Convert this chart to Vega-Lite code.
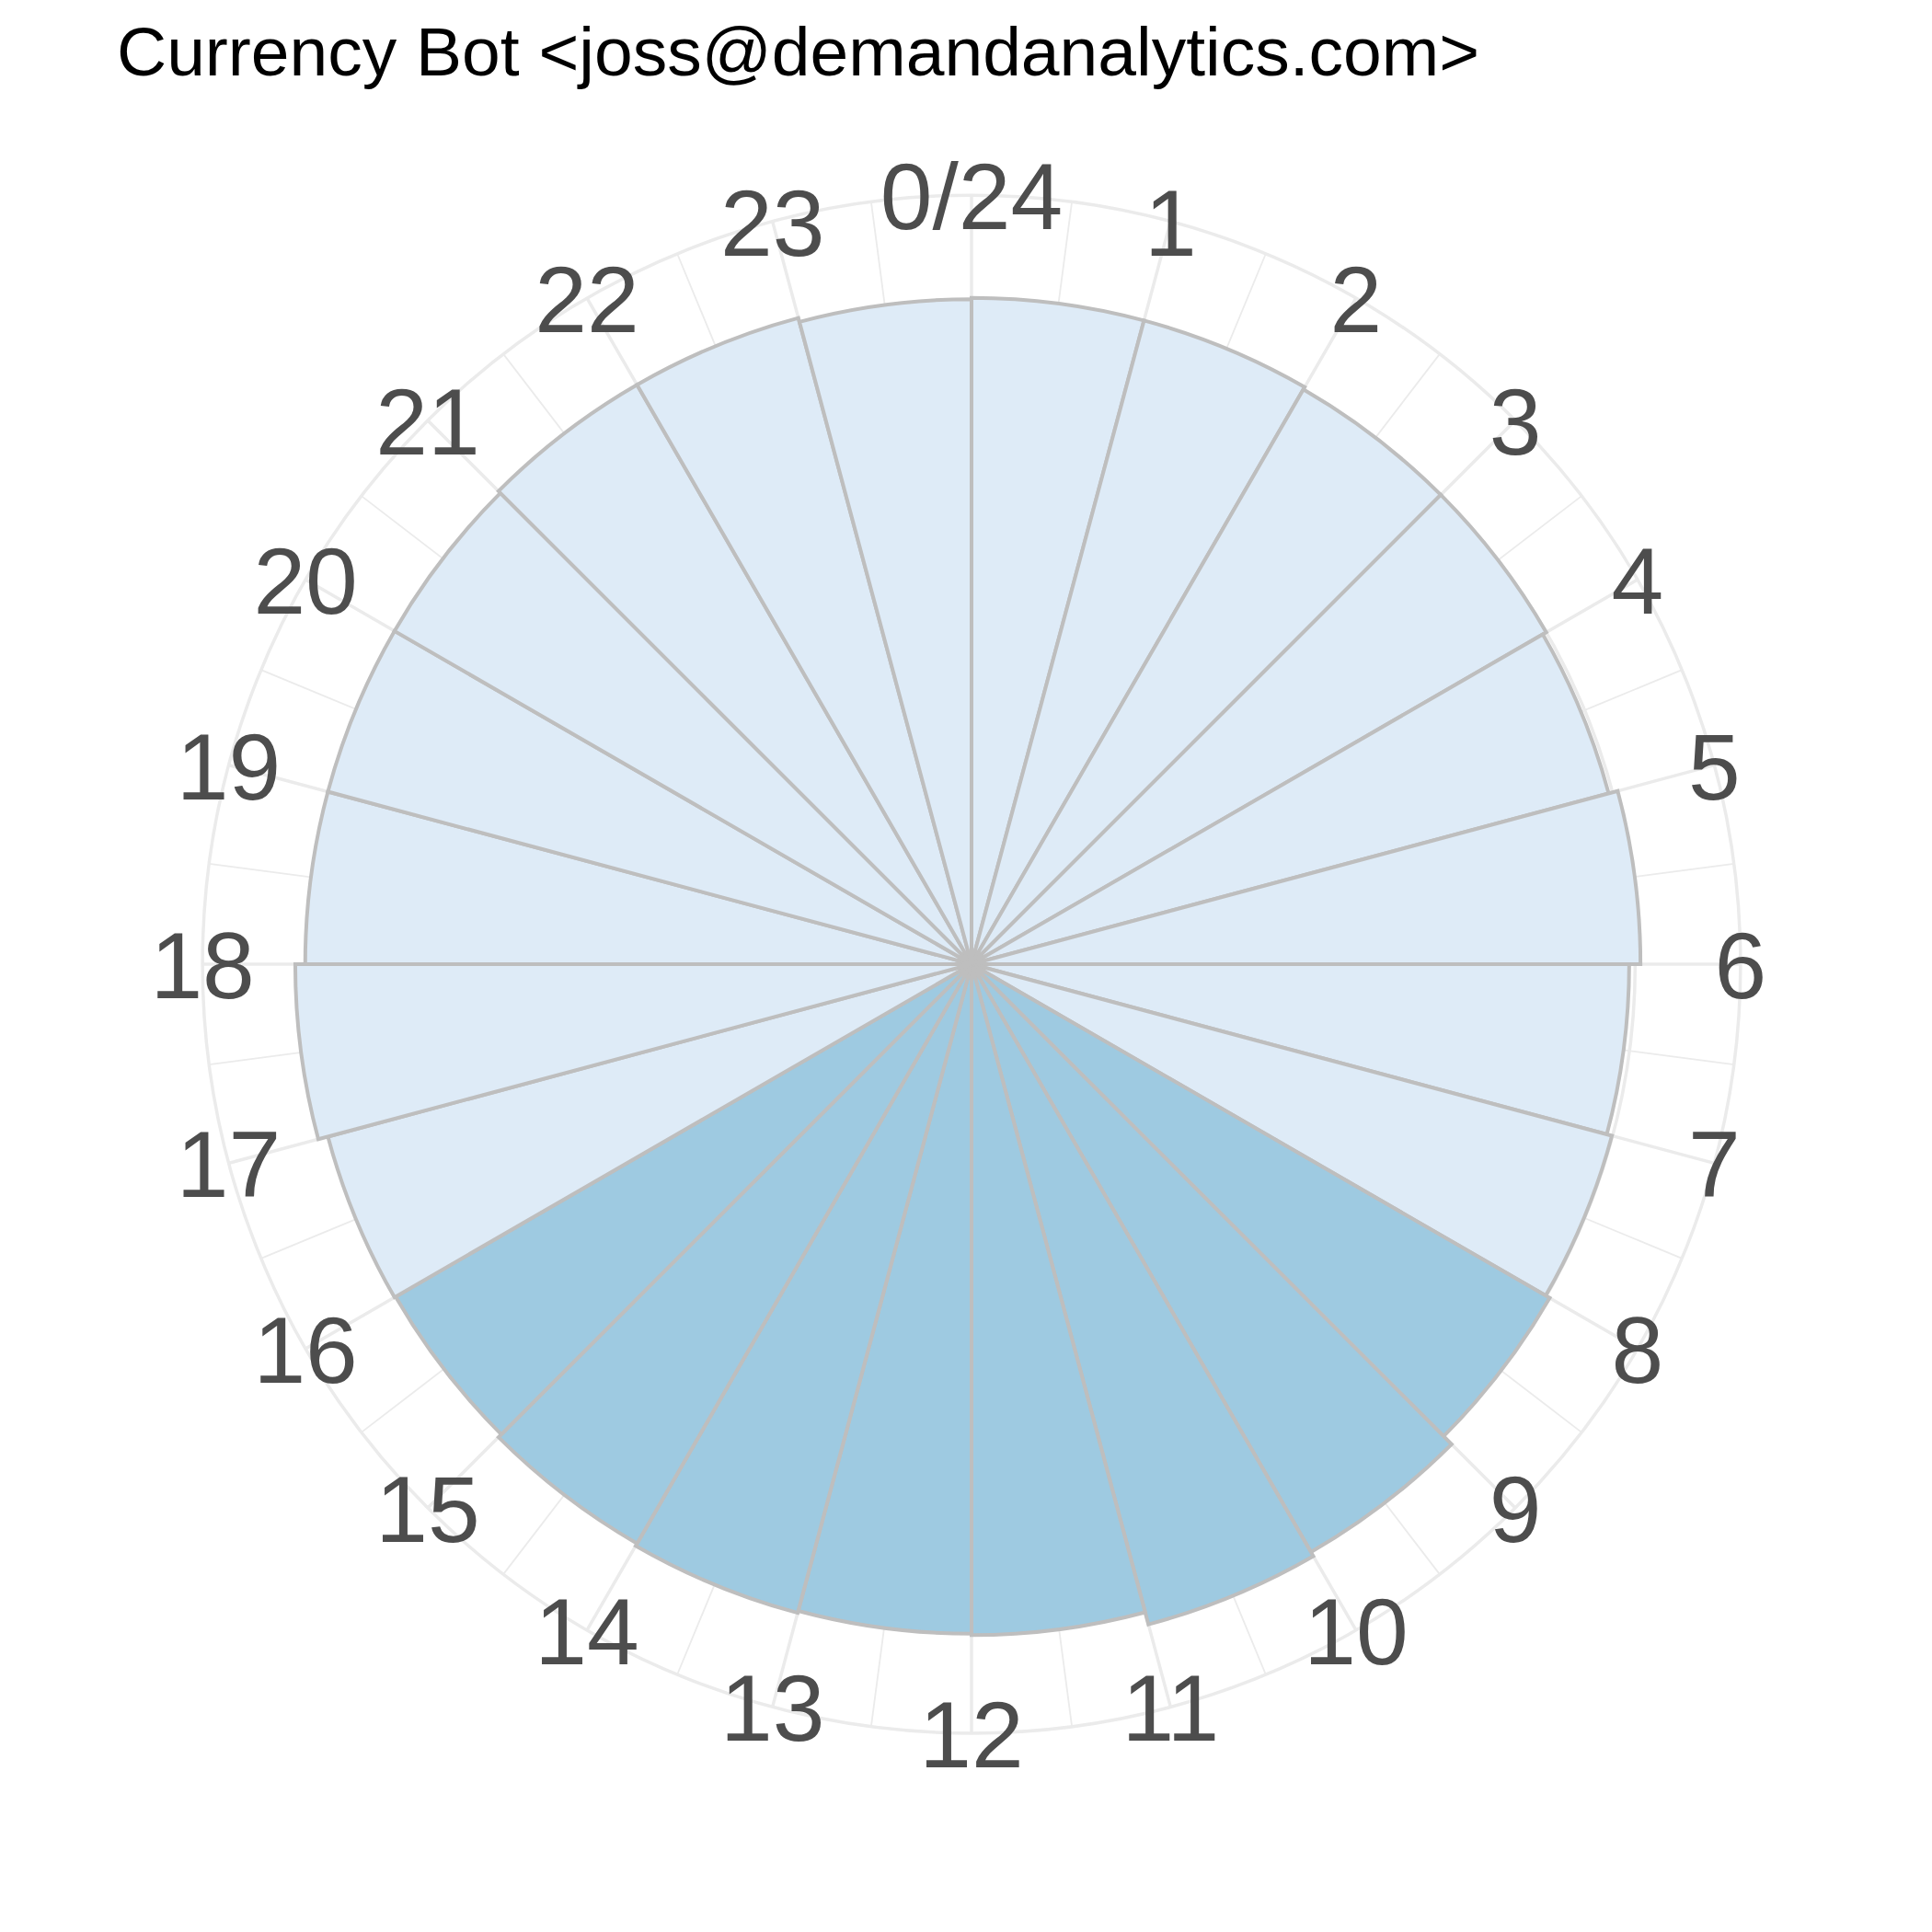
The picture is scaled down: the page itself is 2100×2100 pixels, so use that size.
{
  "$schema": "https://vega.github.io/schema/vega-lite/v6.json",
  "autosize": {"type": "none"},
  "padding": {"left": 12, "top": 100, "right": 0, "bottom": 0},
  "width": 2088,
  "height": 1896,
  "background": "white",
  "title": {
    "text": "Currency Bot <joss@demandanalytics.com>",
    "anchor": "start",
    "frame": "group",
    "font": "Liberation Sans",
    "fontSize": 75,
    "fontWeight": "normal",
    "color": "#000000",
    "offset": 2,
    "dx": 115
  },
  "config": {"view": {"stroke": null}},
  "datasets": {
    "usage": [
      {"hour": 0, "next": 1, "messages": 100.4, "office": "no"},
      {"hour": 1, "next": 2, "messages": 100.4, "office": "no"},
      {"hour": 2, "next": 3, "messages": 100.0, "office": "no"},
      {"hour": 3, "next": 4, "messages": 100.0, "office": "no"},
      {"hour": 4, "next": 5, "messages": 99.4, "office": "no"},
      {"hour": 5, "next": 6, "messages": 100.8, "office": "no"},
      {"hour": 6, "next": 7, "messages": 99.1, "office": "no"},
      {"hour": 7, "next": 8, "messages": 99.9, "office": "no"},
      {"hour": 8, "next": 9, "messages": 100.6, "office": "yes"},
      {"hour": 9, "next": 10, "messages": 102.3, "office": "yes"},
      {"hour": 10, "next": 11, "messages": 103.0, "office": "yes"},
      {"hour": 11, "next": 12, "messages": 101.1, "office": "yes"},
      {"hour": 12, "next": 13, "messages": 100.9, "office": "yes"},
      {"hour": 13, "next": 14, "messages": 101.2, "office": "yes"},
      {"hour": 14, "next": 15, "messages": 100.8, "office": "yes"},
      {"hour": 15, "next": 16, "messages": 100.2, "office": "yes"},
      {"hour": 16, "next": 17, "messages": 100.4, "office": "no"},
      {"hour": 17, "next": 18, "messages": 101.9, "office": "no"},
      {"hour": 18, "next": 19, "messages": 100.4, "office": "no"},
      {"hour": 19, "next": 20, "messages": 100.4, "office": "no"},
      {"hour": 20, "next": 21, "messages": 100.4, "office": "no"},
      {"hour": 21, "next": 22, "messages": 100.8, "office": "no"},
      {"hour": 22, "next": 23, "messages": 100.8, "office": "no"},
      {"hour": 23, "next": 24, "messages": 100.2, "office": "no"}
    ],
    "hours": [
      {"hour": 0, "label": "0/24"}, {"hour": 1, "label": "1"}, {"hour": 2, "label": "2"},
      {"hour": 3, "label": "3"}, {"hour": 4, "label": "4"}, {"hour": 5, "label": "5"},
      {"hour": 6, "label": "6"}, {"hour": 7, "label": "7"}, {"hour": 8, "label": "8"},
      {"hour": 9, "label": "9"}, {"hour": 10, "label": "10"}, {"hour": 11, "label": "11"},
      {"hour": 12, "label": "12"}, {"hour": 13, "label": "13"}, {"hour": 14, "label": "14"},
      {"hour": 15, "label": "15"}, {"hour": 16, "label": "16"}, {"hour": 17, "label": "17"},
      {"hour": 18, "label": "18"}, {"hour": 19, "label": "19"}, {"hour": 20, "label": "20"},
      {"hour": 21, "label": "21"}, {"hour": 22, "label": "22"}, {"hour": 23, "label": "23"}
    ],
    "minor": [
      {"hour": 0.5}, {"hour": 1.5}, {"hour": 2.5}, {"hour": 3.5}, {"hour": 4.5}, {"hour": 5.5},
      {"hour": 6.5}, {"hour": 7.5}, {"hour": 8.5}, {"hour": 9.5}, {"hour": 10.5}, {"hour": 11.5},
      {"hour": 12.5}, {"hour": 13.5}, {"hour": 14.5}, {"hour": 15.5}, {"hour": 16.5}, {"hour": 17.5},
      {"hour": 18.5}, {"hour": 19.5}, {"hour": 20.5}, {"hour": 21.5}, {"hour": 22.5}, {"hour": 23.5}
    ],
    "rings": [
      {"level": 100, "from": 0, "to": 24},
      {"level": 115.875, "from": 0, "to": 24}
    ]
  },
  "layer": [
    {
      "data": {"name": "minor"},
      "mark": {"type": "arc", "filled": false, "stroke": "#ebebeb", "strokeWidth": 1.8},
      "encoding": {
        "theta": {"field": "hour", "type": "quantitative", "stack": null, "scale": {"domain": [0, 24], "range": [0, 6.283185307179586]}},
        "theta2": {"field": "hour"},
        "radius": {"datum": 115.875, "type": "quantitative", "scale": {"type": "linear", "domain": [0, 103], "range": [0, 743], "zero": true, "nice": false}}
      }
    },
    {
      "data": {"name": "hours"},
      "mark": {"type": "arc", "filled": false, "stroke": "#ebebeb", "strokeWidth": 3.5},
      "encoding": {
        "theta": {"field": "hour", "type": "quantitative", "stack": null},
        "theta2": {"field": "hour"},
        "radius": {"datum": 115.875, "type": "quantitative"}
      }
    },
    {
      "data": {"name": "rings"},
      "mark": {"type": "arc", "filled": false, "stroke": "#ebebeb", "strokeWidth": 3.5},
      "encoding": {
        "theta": {"field": "from", "type": "quantitative", "stack": null},
        "theta2": {"field": "to"},
        "radius": {"field": "level", "type": "quantitative"}
      }
    },
    {
      "data": {"name": "usage"},
      "mark": {"type": "arc", "stroke": "#bebebe", "strokeWidth": 4, "fillOpacity": 1},
      "encoding": {
        "theta": {"field": "hour", "type": "quantitative", "stack": null},
        "theta2": {"field": "next"},
        "radius": {"field": "messages", "type": "quantitative"},
        "color": {"field": "office", "type": "nominal", "scale": {"domain": ["no", "yes"], "range": ["#deebf7", "#9ecae1"]}, "legend": null}
      }
    },
    {
      "data": {"name": "hours"},
      "mark": {"type": "text", "font": "Liberation Sans", "fontSize": 102, "color": "#4d4d4d", "align": "center", "baseline": "middle", "dy": 6},
      "encoding": {
        "theta": {"field": "hour", "type": "quantitative", "stack": null},
        "radius": {"datum": 115.875, "type": "quantitative"},
        "text": {"field": "label"}
      }
    }
  ]
}
